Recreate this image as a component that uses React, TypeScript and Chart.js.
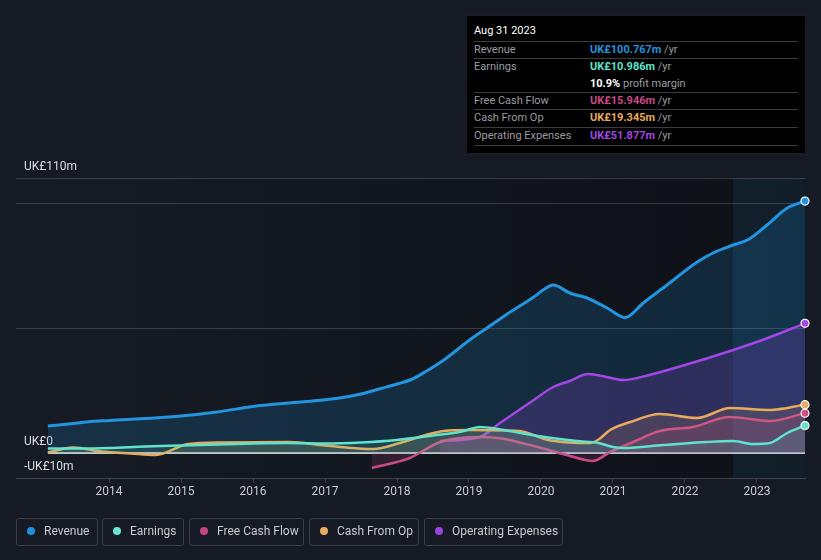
import React, { useEffect, useRef } from "react";
import { Chart, registerables } from "chart.js";

Chart.register(...registerables);

// ---------- DATA ----------
const revenueDates = [2013.15, 2013.5, 2013.75, 2014.0, 2014.5, 2015.0, 2015.5, 2016.0, 2016.5, 2016.9, 2017.2, 2017.5, 2017.75, 2018.0, 2018.2, 2018.4, 2018.65, 2019.0, 2019.25, 2019.5, 2019.75, 2019.9, 2020.05, 2020.17, 2020.4, 2020.64, 2020.92, 2021.17, 2021.42, 2021.75, 2022.17, 2022.39, 2022.67, 2022.88, 2023.14, 2023.42, 2023.667];
const revenueValues = [10.8, 11.8, 12.6, 13.0, 13.8, 14.8, 16.4, 18.6, 20.0, 21.0, 22.0, 23.6, 25.6, 27.6, 29.4, 32.6, 37.2, 45.0, 50.0, 55.0, 59.6, 62.4, 65.6, 67.2, 64.0, 62.0, 58.0, 54.2, 60.0, 67.2, 76.4, 80.0, 83.2, 85.4, 91.2, 98.0, 100.767];

const earningsDates = [2013.15, 2013.6, 2014.0, 2014.5, 2015.0, 2015.5, 2016.0, 2016.5, 2017.0, 2017.5, 2018.0, 2018.5, 2018.9, 2019.15, 2019.4, 2019.75, 2020.1, 2020.5, 2020.8, 2021.0, 2021.15, 2021.7, 2022.3, 2022.67, 2022.94, 2023.18, 2023.42, 2023.667];
const earningsValues = [1.8, 1.8, 2.0, 2.6, 3.0, 3.4, 3.8, 4.0, 3.8, 4.2, 5.2, 7.0, 8.6, 10.4, 9.6, 7.8, 6.2, 4.8, 4.0, 2.4, 2.0, 3.2, 4.4, 4.8, 3.6, 4.0, 8.0, 10.986];

const fcfDates = [2017.65, 2018.0, 2018.18, 2018.6, 2019.15, 2019.45, 2019.9, 2020.36, 2020.72, 2020.96, 2021.28, 2021.65, 2022.11, 2022.625, 2023.18, 2023.667];
const fcfValues = [-6.0, -3.6, -2.0, 4.4, 6.4, 5.8, 2.8, -0.8, -3.2, 0.4, 4.4, 8.8, 10.4, 14.4, 12.8, 15.946];

const cfoDates = [2013.15, 2013.5, 2013.9, 2014.3, 2014.65, 2015.1, 2015.6, 2016.5, 2017.0, 2017.67, 2018.04, 2018.4, 2018.65, 2019.0, 2019.7, 2020.1, 2020.4, 2020.68, 2020.8, 2020.96, 2021.24, 2021.65, 2022.17, 2022.625, 2023.18, 2023.667];
const cfoValues = [0.2, 2.2, 0.6, -0.2, -0.8, 3.6, 4.2, 4.4, 3.0, 1.6, 4.0, 7.2, 8.8, 9.2, 8.8, 5.2, 4.2, 4.0, 5.4, 9.2, 12.4, 15.6, 14.0, 18.0, 17.2, 19.345];

const opexDates = [2018.6, 2019.15, 2019.43, 2019.7, 2019.9, 2020.17, 2020.4, 2020.65, 2020.85, 2021.15, 2021.5, 2022.0, 2022.67, 2023.15, 2023.667];
const opexValues = [4.8, 6.4, 12.0, 17.3, 21.2, 26.4, 28.8, 31.6, 30.8, 29.2, 31.2, 35.2, 41.2, 46.0, 51.877];

const zeroLineDates = [2013.15, 2023.667];
const zeroLineValues = [0, 0];

const xTickYears = [2014, 2015, 2016, 2017, 2018, 2019, 2020, 2021, 2022, 2023];
const yTickValues = [-10, 0, 50, 100, 110];
const yLabelValues = [110, 0, -10];
const yLabelTexts = ["UK£110m", "UK£0", "-UK£10m"];

const xMin = 2012.708;
const xMax = 2023.667;
const highlightStart = 2022.667;

const seriesNames = ["Revenue", "Earnings", "Free Cash Flow", "Cash From Op", "Operating Expenses"];
const seriesColors = ["#2394df", "#5fe3cc", "#c9498a", "#e8aa5c", "#a246e6"];
const legendDotColors = ["#1f8fe0", "#6ae6d3", "#c5467f", "#e9ad5f", "#9b43e0"];

const tooltipDate = "Aug 31 2023";
const tooltipValues = ["UK£100.767m", "UK£10.986m", "UK£15.946m", "UK£19.345m", "UK£51.877m"];
const profitMarginText = "10.9%";

// ---------- helpers ----------
const pts = (xs: number[], ys: number[]) => xs.map((x, i) => ({ x, y: ys[i] }));

function makeSeries(label: string, xs: number[], ys: number[], color: string, fill: string, width: number) {
  const last = xs.length - 1;
  return {
    label,
    data: pts(xs, ys),
    borderColor: color,
    backgroundColor: fill,
    fill: "origin",
    borderWidth: width,
    cubicInterpolationMode: "monotone",
    pointRadius: (c: any) => (c.dataIndex === last ? 4 : 0),
    pointHoverRadius: 0,
    pointBackgroundColor: color,
    pointBorderColor: "#ffffff",
    pointBorderWidth: 1.2,
    clip: false,
  };
}

export default function App() {
  const ref = useRef<HTMLCanvasElement>(null);

  useEffect(() => {
    const canvas = ref.current!;
    const bgPlugin = {
      id: "bgPlugin",
      beforeDraw(chart: any) {
        const { ctx, chartArea: a, scales } = chart;
        ctx.save();
        ctx.fillStyle = "#151a24";
        ctx.fillRect(0, 0, chart.width, chart.height);
        const g = ctx.createLinearGradient(a.left, 0, a.right, 0);
        g.addColorStop(0, "#161b25");
        g.addColorStop(1, "#0e1116");
        ctx.fillStyle = g;
        ctx.fillRect(a.left, a.top, a.right - a.left, a.bottom - a.top);
        const hx = scales.x.getPixelForValue(highlightStart);
        ctx.fillStyle = "rgba(35,115,170,0.14)";
        ctx.fillRect(hx, a.top, a.right - hx, a.bottom - a.top);
        ctx.restore();
      },
    };

    const chart = new Chart(canvas, {
      type: "line",
      data: {
        datasets: [
          makeSeries(seriesNames[1], earningsDates, earningsValues, seriesColors[1], "rgba(95,227,204,0.13)", 2.5),
          makeSeries(seriesNames[3], cfoDates, cfoValues, seriesColors[3], "rgba(232,170,92,0.14)", 2.5),
          makeSeries(seriesNames[2], fcfDates, fcfValues, seriesColors[2], "rgba(201,73,138,0.16)", 2.5),
          makeSeries(seriesNames[4], opexDates, opexValues, seriesColors[4], "rgba(162,70,230,0.2)", 2.5),
          makeSeries(seriesNames[0], revenueDates, revenueValues, seriesColors[0], "rgba(35,148,223,0.18)", 3),
          {
            label: "zero",
            data: pts(zeroLineDates, zeroLineValues),
            borderColor: "#ffffff",
            borderWidth: 1.5,
            pointRadius: 0,
            fill: false,
          } as any,
        ] as any,
      },
      options: {
        responsive: false,
        animation: false,
        devicePixelRatio: 1,
        layout: { padding: { top: 178, left: 16, right: 16, bottom: 52 } },
        plugins: { legend: { display: false }, tooltip: { enabled: false } },
        events: [],
        scales: {
          x: {
            type: "linear",
            min: xMin,
            max: xMax,
            afterBuildTicks: (s: any) => {
              s.ticks = xTickYears.map((v) => ({ value: v }));
            },
            afterFit: (s: any) => {
              s.height = 30;
            },
            ticks: {
              autoSkip: false,
              maxRotation: 0,
              padding: 2,
              color: "#c8cacf",
              font: { family: "Roboto", size: 12 },
              callback: (v: any) => String(v),
            },
            grid: { drawOnChartArea: false, drawTicks: true, tickLength: 5, color: "#3d424b" },
            border: { color: "#3d424b" },
          },
          y: {
            type: "linear",
            min: -10,
            max: 110,
            afterBuildTicks: (s: any) => {
              s.ticks = yTickValues.map((v) => ({ value: v }));
            },
            afterFit: (s: any) => {
              s.width = 0;
            },
            ticks: {
              autoSkip: false,
              mirror: true,
              padding: 8,
              labelOffset: -11,
              color: "#dcdde0",
              font: { family: "Roboto", size: 12 },
              callback: (v: any) => {
                const i = yLabelValues.indexOf(Number(v));
                return i >= 0 ? yLabelTexts[i] : "";
              },
            },
            grid: {
              drawTicks: false,
              color: (c: any) => (c.tick && c.tick.value === 0 ? "rgba(0,0,0,0)" : "rgba(255,255,255,0.16)"),
            },
            border: { display: false },
          },
        },
      } as any,
      plugins: [bgPlugin],
    });
    return () => chart.destroy();
  }, []);

  const legendBoxes = [
    { left: 16, width: 82 },
    { left: 102, width: 82 },
    { left: 189, width: 115 },
    { left: 309, width: 110 },
    { left: 424, width: 139 },
  ];

  const font = "Roboto, 'Noto Sans', sans-serif";
  const rowTops = [50, 67, 101, 118, 136];
  const sepLines = [41, 58, 92, 109, 127, 145];

  return (
    <div style={{ position: "absolute", left: 0, top: 0, width: 821, height: 560, background: "#151a24", fontFamily: font, overflow: "hidden" }}>
      <canvas ref={ref} width={821} height={560} style={{ position: "absolute", left: 0, top: 0, width: 821, height: 560 }} />
      {/* tooltip box */}
      <div style={{ position: "absolute", left: 466, top: 15, width: 340, height: 139, background: "#000", border: "1px solid #1c1f26", borderRadius: 2, boxSizing: "border-box" }} />
      <div style={{ position: "absolute", left: 474, top: 23, height: 16, lineHeight: "16px", fontSize: 11, color: "#fff" }}>{tooltipDate}</div>
      {sepLines.map((y, i) => (
        <div key={"s" + i} style={{ position: "absolute", left: 474, top: y, width: 324, height: 1, background: "#3a3c42" }} />
      ))}
      {seriesNames.map((name, i) => (
        <React.Fragment key={"r" + i}>
          <div style={{ position: "absolute", left: 474, top: rowTops[i] - 8, height: 16, lineHeight: "16px", fontSize: 11, color: "#9a9ca1" }}>{name}</div>
          <div style={{ position: "absolute", left: 590, top: rowTops[i] - 8, height: 16, lineHeight: "16px", fontSize: 11, whiteSpace: "nowrap" }}>
            <span style={{ color: seriesColors[i], fontWeight: 700 }}>{tooltipValues[i]}</span>
            <span style={{ color: "#9a9ca1" }}> /yr</span>
          </div>
        </React.Fragment>
      ))}
      <div style={{ position: "absolute", left: 590, top: 84 - 8, height: 16, lineHeight: "16px", fontSize: 11, whiteSpace: "nowrap" }}>
        <span style={{ color: "#fff", fontWeight: 700 }}>{profitMarginText}</span>
        <span style={{ color: "#9a9ca1" }}> profit margin</span>
      </div>
      {/* legend */}
      {legendBoxes.map((b, i) => (
        <div key={"l" + i} style={{ position: "absolute", left: b.left, top: 518, width: b.width, height: 28, border: "1px solid #3a3e48", borderRadius: 3, boxSizing: "border-box" }}>
          <div style={{ position: "absolute", left: 10, top: 8, width: 8, height: 8, borderRadius: 4, background: legendDotColors[i] }} />
          <div style={{ position: "absolute", left: 27, top: 0, height: 26, lineHeight: "25px", fontSize: 12, color: "#c8cacf", whiteSpace: "nowrap" }}>{seriesNames[i]}</div>
        </div>
      ))}
    </div>
  );
}
